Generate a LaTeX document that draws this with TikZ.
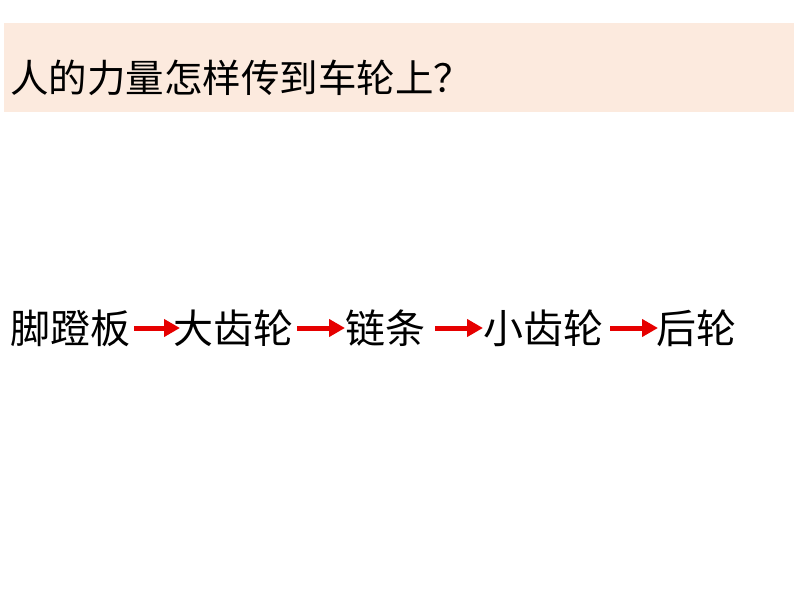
\documentclass[tikz,border=0pt]{standalone}
\usepackage{fontspec}
\newfontfamily\cjk{Noto Sans CJK SC}
\usetikzlibrary{arrows.meta}
\definecolor{bandpeach}{RGB}{252,234,222}
\definecolor{arrred}{RGB}{230,0,0}
\tikzset{
  title/.style={anchor=west,inner sep=0pt,font=\cjk\fontsize{38.5}{42}\selectfont},
  word/.style={anchor=west,inner sep=0pt,font=\cjk\fontsize{40}{44}\selectfont},
  redarrow/.style={draw=arrred,line width=5pt,-{Triangle[length=16pt,width=17pt]}}
}
\begin{document}
\begin{tikzpicture}[x=1pt,y=-1pt]
\useasboundingbox (0,0) rectangle (794,596);
\fill[white] (0,0) rectangle (794,596);
\fill[bandpeach] (4,23) rectangle (794,112);
\node[title] (q) at (10,78) {人的力量怎样传到车轮上？};
\node[word] (w1) at (10,328) {脚蹬板};
\node[word] (w2) at (173,328) {大齿轮};
\node[word] (w3) at (345,328) {链条};
\node[word] (w4) at (483,328) {小齿轮};
\node[word] (w5) at (656,328) {后轮};
\draw[redarrow,shorten <=4pt,shorten >=-7pt] (w1.east) -- (w2.west);
\draw[redarrow,shorten <=4pt,shorten >=0pt] (w2.east) -- (w3.west);
\draw[redarrow,shorten <=10pt,shorten >=0pt] (w3.east) -- (w4.west);
\draw[redarrow,shorten <=7pt,shorten >=-2pt] (w4.east) -- (w5.west);
\end{tikzpicture}
\end{document}
